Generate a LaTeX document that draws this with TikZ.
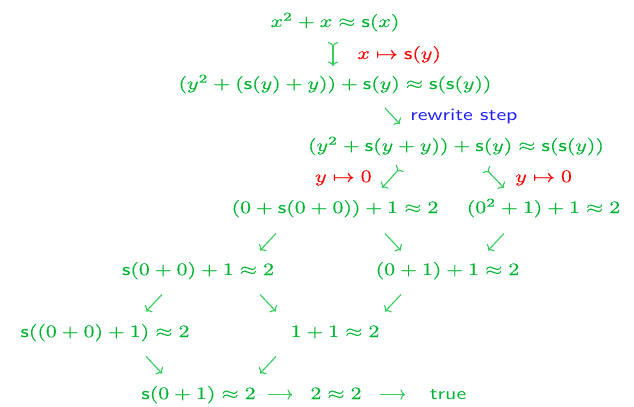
\documentclass[tikz,border=0pt]{standalone}
\usepackage{graphicx}
\usetikzlibrary{arrows.meta}
\definecolor{tg}{RGB}{0,180,50}
\definecolor{ag}{RGB}{55,205,95}
\definecolor{lr}{RGB}{255,0,0}
\definecolor{lb}{RGB}{30,30,255}
\newcommand{\sx}[1]{\scalebox{1.26}[1]{\special{pdf:literal direct 2 Tr 0.025 w}#1\special{pdf:literal direct 0 Tr}}}
\newcommand{\sxp}[1]{\scalebox{1.26}[1]{\special{pdf:literal direct 0 Tr}#1}}
\newcommand{\sS}{\mathsf{s}}
\begin{document}
\begin{tikzpicture}[x=0.575pt,y=-0.575pt,
  t/.style={inner sep=0pt, text=tg, anchor=base},
  lab/.style={inner sep=0pt, anchor=base west},
  ar/.style={draw=ag, line width=0.65pt, -{To[length=2.6pt,width=6pt]}},
  tailar/.style={draw=ag, line width=0.65pt, {To[length=2.6pt,width=6pt,reversed]}-{To[length=2.6pt,width=6pt]}}]
\useasboundingbox (0,0) rectangle (634,407);
% plain sans texts first
\node[t] (r7c) at (448,399) {\sxp{\textsf{true}}};
\node[lab,text=lb] (l2) at (410,120) {\sxp{\textsf{rewrite step}}};
% terms
\node[t] (r1) at (335,27) {\sx{$x^2+x\approx\sS(x)$}};
\node[t] (r2) at (335,89) {\sx{$(y^2+(\sS(y)+y))+\sS(y)\approx\sS(\sS(y))$}};
\node[t] (r3) at (456,151) {\sx{$(y^2+\sS(y+y))+\sS(y)\approx\sS(\sS(y))$}};
\node[t] (r4a) at (335,213) {\sx{$(0+\sS(0+0))+1\approx2$}};
\node[t] (r4b) at (543.5,213) {\sx{$(0^2+1)+1\approx2$}};
\node[t] (r5a) at (198,275) {\sx{$\sS(0+0)+1\approx2$}};
\node[t] (r5b) at (447.5,275) {\sx{$(0+1)+1\approx2$}};
\node[t] (r6a) at (105,337) {\sx{$\sS((0+0)+1)\approx2$}};
\node[t] (r6b) at (335,337) {\sx{$1+1\approx2$}};
\node[t,anchor=base west] (r7a) at (141,399) {\sx{$\sS(0+1)\approx2$}};
\node[t] (r7b) at (336,399) {\sx{$2\approx2$}};
% labels
\node[lab,text=lr] (l1) at (357,59) {\sx{$x\mapsto\sS(y)$}};
\node[lab,text=lr,anchor=base east] (l3) at (372,182) {\sx{$y\mapsto0$}};
\node[lab,text=lr] (l4) at (515,182) {\sx{$y\mapsto0$}};
% arrow end points
\coordinate (a1s) at (333,42);  \coordinate (a1e) at (333,66);
\coordinate (a2s) at (385,108); \coordinate (a2e) at (400,124);
\coordinate (a3s) at (400,168); \coordinate (a3e) at (382,188);
\coordinate (a4s) at (486,169); \coordinate (a4e) at (504,188);
\coordinate (b1s) at (276,233.5); \coordinate (b1e) at (260,250.5);
\coordinate (b2s) at (385,233.5); \coordinate (b2e) at (401,250.5);
\coordinate (b3s) at (504,233.5); \coordinate (b3e) at (488,250.5);
\coordinate (c1s) at (162,294.5); \coordinate (c1e) at (146,311.5);
\coordinate (c2s) at (260,294.5); \coordinate (c2e) at (276,311.5);
\coordinate (c3s) at (401,294.5); \coordinate (c3e) at (385,311.5);
\coordinate (d1s) at (146,356.5); \coordinate (d1e) at (162,373.5);
\coordinate (d2s) at (276,356.5); \coordinate (d2e) at (260,373.5);
\coordinate (e1s) at (268,394.6); \coordinate (e1e) at (292,394.6);
\coordinate (e2s) at (380,394.6); \coordinate (e2e) at (405,394.6);
% arrows
\draw[tailar] (a1s) -- (a1e);
\draw[ar] (a2s) -- (a2e);
\draw[tailar] (a3s) -- (a3e);
\draw[tailar] (a4s) -- (a4e);
\foreach \p in {b1,b2,b3,c1,c2,c3,d1,d2,e1,e2}
  \draw[ar] (\p s) -- (\p e);
\end{tikzpicture}
\end{document}
